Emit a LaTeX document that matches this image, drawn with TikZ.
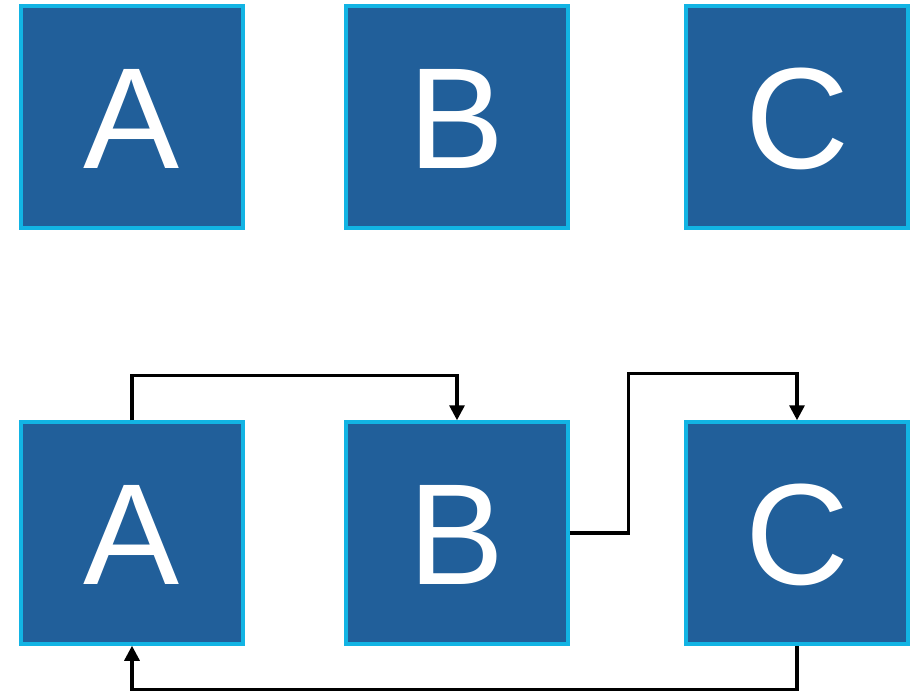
\documentclass[tikz,border=0pt]{standalone}
\usepackage{fontspec}
\setmainfont{Liberation Sans}
\usetikzlibrary{arrows.meta}
\definecolor{boxfill}{HTML}{215F9A}
\definecolor{boxline}{HTML}{12B4E4}
\begin{document}
\begin{tikzpicture}[x=1pt,y=-1pt,
  blockbox/.style={draw=boxline, fill=boxfill, line width=3.5pt, minimum width=222pt, minimum height=222pt, inner sep=0pt, text=white, font=\fontsize{144}{144}\selectfont},
  lbl/.style={text=white, font=\fontsize{144}{144}\selectfont, inner sep=0pt},
  link/.style={line width=3.2pt, -{Triangle[length=15pt,width=15pt]}}]
\useasboundingbox (0,0) rectangle (923,692);
\node[blockbox] (A1) at (132,117) {};
\node[blockbox] (B1) at (457,117) {};
\node[blockbox] (C1) at (797,117) {};
\node[blockbox] (A2) at (132,533) {};
\node[blockbox] (B2) at (457,533) {};
\node[blockbox] (C2) at (797,533) {};
\node[lbl] (tA1) at ([yshift=-2pt]A1.center) {A};
\node[lbl] (tB1) at ([yshift=-2pt]B1.center) {B};
\node[lbl] (tC1) at ([yshift=-2pt]C1.center) {C};
\node[lbl] (tA2) at ([yshift=-2pt]A2.center) {A};
\node[lbl] (tB2) at ([yshift=-2pt]B2.center) {B};
\node[lbl] (tC2) at ([yshift=-2pt]C2.center) {C};
\draw[link] (A2.north) -- ([yshift=45pt]A2.north) -| (B2.north);
\draw[link] (B2.east) -- ([xshift=59pt]B2.east) |- ([yshift=47pt]C2.north) -- (C2.north);
\draw[link] (C2.south) -- ([yshift=-44pt]C2.south) -| (A2.south);
\end{tikzpicture}
\end{document}
